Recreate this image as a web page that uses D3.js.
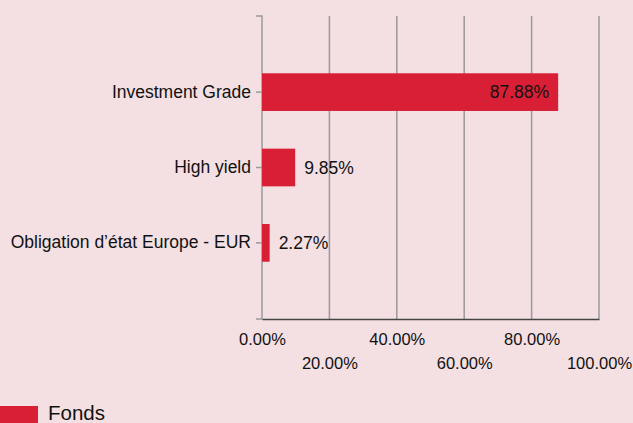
<!DOCTYPE html>
<html><head><meta charset="utf-8">
<script src="https://cdn.jsdelivr.net/npm/d3@7"></script>
<style>
html,body{margin:0;padding:0;background:#f4e0e3;}
svg{display:block;font-family:"Liberation Sans",Arial,sans-serif;}
</style></head>
<body>
<svg id="c" width="633" height="423"></svg>
<script>
const categories = ["Investment Grade", "High yield", "Obligation d\u2019état Europe - EUR"];
const values = [87.88, 9.85, 2.27];
const xTicks = [0, 20, 40, 60, 80, 100];
const seriesName = "Fonds";

(function () {
const svg = d3.select("#c");
const mLeft = 262, mRight = 599, mTop = 16, mBottom = 319;
const x = d3.scaleLinear().domain([0, 100]).range([mLeft, mRight]);
const y = d3.scaleBand().domain(categories).range([mTop, mBottom]).paddingInner(0.5).paddingOuter(0.76);
const barColor = "#d81f35";
const ff = "Liberation Sans, Arial, sans-serif";

// gridlines
svg.append("g").selectAll("line").data(xTicks.slice(1)).join("line")
  .attr("x1", d => x(d)).attr("x2", d => x(d))
  .attr("y1", mTop).attr("y2", mBottom)
  .attr("stroke", "#9a9a9a").attr("stroke-width", 1.5);

// y axis
const yAxis = d3.axisLeft(y).tickSize(6).tickSizeOuter(6);
const yg = svg.append("g").attr("transform", `translate(${mLeft},0)`).call(yAxis);
yg.select(".domain").attr("d", `M${-6},${mTop}H0V${mBottom}H${-6}`).attr("stroke", "#9a9a9a").attr("stroke-width", 1.5);
yg.selectAll(".tick line").attr("stroke", "#9a9a9a").attr("stroke-width", 1.5);
yg.selectAll(".tick text").attr("font-size", 17.5).attr("fill", "#111").attr("x", -11)
  .attr("font-family", ff);

// bars
svg.append("g").selectAll("rect").data(values).join("rect")
  .attr("x", x(0)).attr("y", (d, i) => y(categories[i]))
  .attr("width", d => x(d) - x(0)).attr("height", y.bandwidth())
  .attr("fill", barColor);

// x axis
const xAxis = d3.axisBottom(x).tickValues(xTicks).tickSize(0).tickFormat(d => d3.format(".2f")(d) + "%");
const xg = svg.append("g").attr("transform", `translate(0,${mBottom})`).call(xAxis);
xg.select(".domain").attr("stroke", "#444").attr("stroke-width", 1.5);
xg.selectAll(".tick text").attr("font-size", 16.5).attr("fill", "#111")
  .attr("font-family", ff)
  .attr("y", (d, i) => i % 2 === 0 ? 14 : 38).attr("dy", "0.71em");

// value labels
svg.append("g").selectAll("text").data(values).join("text")
  .attr("x", d => d > 50 ? x(d) - 9 : x(d) + 9)
  .attr("y", (d, i) => y(categories[i]) + y.bandwidth() / 2)
  .attr("dy", "0.35em")
  .attr("text-anchor", d => d > 50 ? "end" : "start")
  .attr("font-size", 17.5).attr("fill", "#111").attr("font-family", ff)
  .text(d => d3.format(".2f")(d) + "%");

// legend
svg.append("rect").attr("x", 0).attr("y", 406).attr("width", 38).attr("height", 20).attr("fill", barColor);
svg.append("text").attr("x", 48).attr("y", 420).attr("font-size", 20.5).attr("fill", "#111").attr("font-family", ff).text(seriesName);
})();
</script>
</body></html>
